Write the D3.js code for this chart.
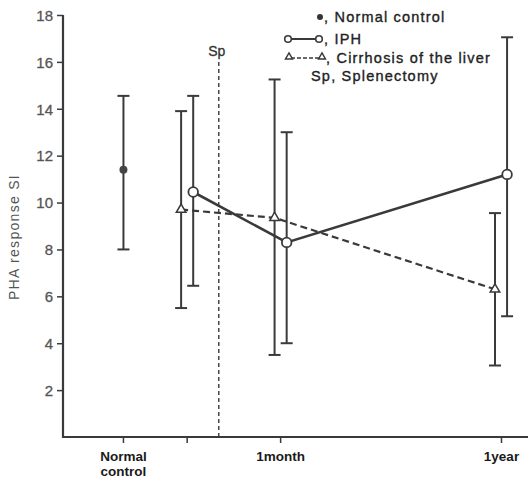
<!DOCTYPE html>
<html>
<head>
    <meta charset="utf-8">
    <script src="https://d3js.org/d3.v7.min.js"></script>
    <style>
        body { margin: 0; background: #fff; }
        text { font-family: "Liberation Sans", Arial, sans-serif; }
    </style>
</head>
<body>
<div id="chart"></div>
<script>
    // data
    let yTicks = [2, 4, 6, 8, 10, 12, 14, 16, 18];
    let timeKeys = ["pre", "1month", "1year"];
    let timePos = [26.7, 46.8, 94.2];          // position on abstract x domain
    let xTickPos = [13, 26.7, 46.8, 94.3];
    let xTickLabels = [["Normal", "control"], [], ["1month"], ["1year"]];

    let normalMean = 11.4, normalHi = 14.55, normalLo = 8.0, normalPos = 13;

    let iphMean = [10.45, 8.3, 11.2];
    let iphHi = [14.55, 13.0, 17.05];
    let iphLo = [6.45, 4.0, 5.15];

    let cirMean = [9.7, 9.35, 6.3];
    let cirHi = [13.9, 15.25, 9.55];
    let cirLo = [5.5, 3.5, 3.05];

    let spPos = 33.5, spTop = 16.0;

    let width = 529, height = 480;
    let ink = "#3a3a3a";

    let svg = d3.select("#chart").append("svg")
        .attr("width", width)
        .attr("height", height);

    let x = d3.scaleLinear().domain([0, 100]).range([63, 528]);
    let y = d3.scaleLinear().domain([0, 18]).range([437, 15]);

    // axes
    let yAxis = svg.append("g")
        .attr("transform", "translate(63,0)")
        .call(d3.axisLeft(y).tickValues(yTicks).tickSize(6).tickPadding(4).tickSizeOuter(0));
    yAxis.select(".domain").remove();
    yAxis.selectAll("line").attr("stroke", ink).attr("stroke-width", 1.5);
    yAxis.selectAll("text").attr("font-size", 15).attr("fill", "#555")
        .attr("stroke", "#555").attr("stroke-width", 0.3).attr("dy", "0.35em");

    svg.append("line")
        .attr("x1", 63).attr("x2", 63)
        .attr("y1", y(18)).attr("y2", y(0) + 1)
        .attr("stroke", ink).attr("stroke-width", 2.2);
    svg.append("line")
        .attr("x1", 62).attr("x2", 528)
        .attr("y1", y(0)).attr("y2", y(0))
        .attr("stroke", ink).attr("stroke-width", 2.2);

    svg.selectAll(".xtick")
        .data(xTickPos)
        .join("line")
        .attr("x1", d => x(d)).attr("x2", d => x(d))
        .attr("y1", y(0)).attr("y2", y(0) + 6)
        .attr("stroke", ink).attr("stroke-width", 1.5);

    xTickLabels.forEach((lines, i) => {
        lines.forEach((s, j) => {
            svg.append("text")
                .attr("x", x(xTickPos[i]))
                .attr("y", 461 + j * 15)
                .attr("text-anchor", "middle")
                .attr("font-size", 13.5)
                .attr("font-weight", "bold")
                .attr("fill", "#1a1a1a")
                .text(s);
        });
    });

    svg.append("text")
        .attr("transform", "translate(19,237) rotate(-90)")
        .attr("text-anchor", "middle")
        .attr("font-size", 14)
        .attr("fill", "#555")
        .attr("letter-spacing", 1.3)
        .text("PHA response  SI");

    // splenectomy line
    svg.append("line")
        .attr("x1", x(spPos)).attr("x2", x(spPos))
        .attr("y1", y(0)).attr("y2", y(spTop))
        .attr("stroke", ink).attr("stroke-width", 1.4)
        .attr("stroke-dasharray", "4,3");
    svg.append("text")
        .attr("x", x(spPos) - 2).attr("y", 56)
        .attr("text-anchor", "middle")
        .attr("font-size", 14)
        .attr("fill", "#333")
        .attr("stroke", "#333").attr("stroke-width", 0.3)
        .text("Sp");

    function errorBars(pos, hi, lo) {
        let g = svg.append("g");
        let d = pos.map((p, i) => ({ p: p, hi: hi[i], lo: lo[i] }));
        g.selectAll(".v").data(d).join("line")
            .attr("x1", d => x(d.p)).attr("x2", d => x(d.p))
            .attr("y1", d => y(d.hi)).attr("y2", d => y(d.lo))
            .attr("stroke", ink).attr("stroke-width", 2);
        g.selectAll(".t").data(d).join("line")
            .attr("x1", d => x(d.p) - 6).attr("x2", d => x(d.p) + 6)
            .attr("y1", d => y(d.hi)).attr("y2", d => y(d.hi))
            .attr("stroke", ink).attr("stroke-width", 2);
        g.selectAll(".b").data(d).join("line")
            .attr("x1", d => x(d.p) - 6).attr("x2", d => x(d.p) + 6)
            .attr("y1", d => y(d.lo)).attr("y2", d => y(d.lo))
            .attr("stroke", ink).attr("stroke-width", 2);
    }

    let iphPos = timePos.map(p => p + 1.3);
    let cirPos = timePos.map(p => p - 1.3);

    errorBars([normalPos], [normalHi], [normalLo]);
    errorBars(iphPos, iphHi, iphLo);
    errorBars(cirPos, cirHi, cirLo);

    let line = d3.line().x(d => x(d[0])).y(d => y(d[1]));

    svg.append("path")
        .attr("d", line(cirPos.map((p, i) => [p, cirMean[i]])))
        .attr("fill", "none").attr("stroke", ink)
        .attr("stroke-width", 2.2).attr("stroke-dasharray", "7,4");
    svg.append("path")
        .attr("d", line(iphPos.map((p, i) => [p, iphMean[i]])))
        .attr("fill", "none").attr("stroke", ink)
        .attr("stroke-width", 2.6);

    let tri = d3.symbol().type(d3.symbolTriangle).size(40);
    svg.selectAll(".tri")
        .data(cirPos.map((p, i) => [p, cirMean[i]]))
        .join("path")
        .attr("d", tri)
        .attr("transform", d => `translate(${x(d[0])},${y(d[1])})`)
        .attr("fill", "#fff").attr("stroke", ink).attr("stroke-width", 1.5);

    svg.selectAll(".circ")
        .data(iphPos.map((p, i) => [p, iphMean[i]]))
        .join("circle")
        .attr("cx", d => x(d[0])).attr("cy", d => y(d[1]))
        .attr("r", 4.8)
        .attr("fill", "#fff").attr("stroke", ink).attr("stroke-width", 1.8);

    svg.append("circle")
        .attr("cx", x(normalPos)).attr("cy", y(normalMean))
        .attr("r", 4).attr("fill", "#444");

    // legend
    let lg = svg.append("g");
    let legendFont = { size: 14.5, fill: "#222" };
    function legendText(tx, ty, s) {
        lg.append("text")
            .attr("x", tx).attr("y", ty)
            .attr("font-size", legendFont.size)
            .attr("fill", legendFont.fill)
            .attr("letter-spacing", 1.2)
            .attr("stroke", legendFont.fill).attr("stroke-width", 0.35)
            .text(s);
    }
    lg.append("circle").attr("cx", 320).attr("cy", 17).attr("r", 3).attr("fill", "#333");
    legendText(324, 22, ", Normal control");

    lg.append("line").attr("x1", 289).attr("x2", 318).attr("y1", 39).attr("y2", 39)
        .attr("stroke", ink).attr("stroke-width", 2);
    lg.append("circle").attr("cx", 288).attr("cy", 39).attr("r", 3.3)
        .attr("fill", "#fff").attr("stroke", ink).attr("stroke-width", 1.6);
    lg.append("circle").attr("cx", 319).attr("cy", 39).attr("r", 3.3)
        .attr("fill", "#fff").attr("stroke", ink).attr("stroke-width", 1.6);
    legendText(324, 44, ", IPH");

    lg.append("line").attr("x1", 291).attr("x2", 320).attr("y1", 58).attr("y2", 58)
        .attr("stroke", ink).attr("stroke-width", 1.6).attr("stroke-dasharray", "4,2");
    let triSmall = d3.symbol().type(d3.symbolTriangle).size(22);
    [289, 322].forEach(tx => {
        lg.append("path").attr("d", triSmall)
            .attr("transform", `translate(${tx},57)`)
            .attr("fill", "#fff").attr("stroke", ink).attr("stroke-width", 1.4);
    });
    legendText(326, 63, ", Cirrhosis of the liver");

    legendText(311, 81, "Sp, Splenectomy");
</script>
</body>
</html>
